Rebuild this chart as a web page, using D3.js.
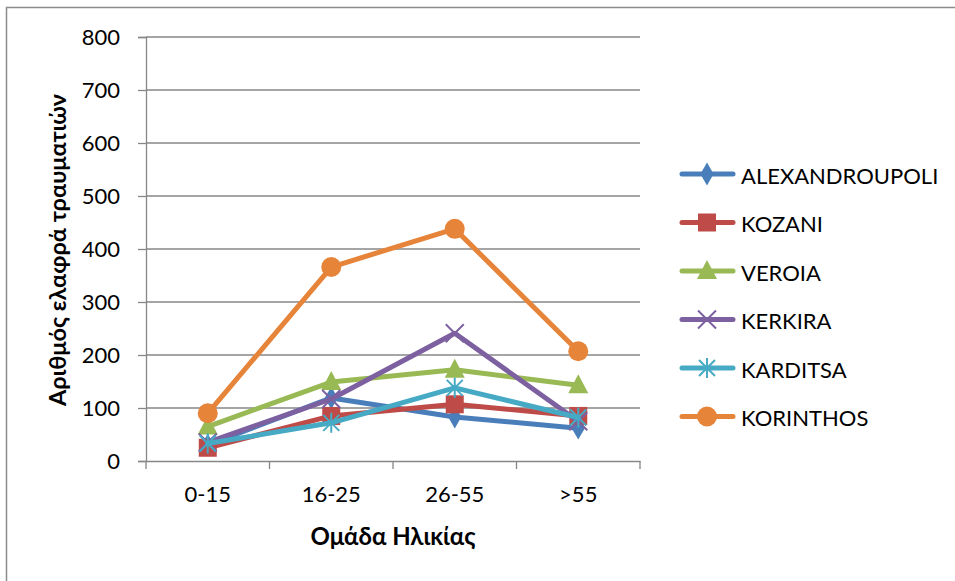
<!DOCTYPE html>
<html>
<head>
<meta charset="utf-8">
<script src="https://cdn.jsdelivr.net/npm/d3@7"></script>
<style>
  html, body { margin: 0; padding: 0; background: #fff; }
  svg { display: block; }
  text { font-family: Lato, "Open Sans", sans-serif; fill: #000; }
</style>
</head>
<body>
<svg id="chart" width="955" height="581"></svg>
<script>
// Age groups on the x axis
const categories = ["0-15", "16-25", "26-55", ">55"];
const yTicks = [0, 100, 200, 300, 400, 500, 600, 700, 800];

// Light injuries per age group, one array per city
const alexandroupoli = [30, 119, 83, 62];
const kozani = [25, 85, 107, 85];
const veroia = [65, 149, 172, 143];
const kerkira = [35, 117, 241, 75];
const karditsa = [33, 72, 138, 82];
const korinthos = [90, 366, 438, 207];

const seriesNames = ["ALEXANDROUPOLI", "KOZANI", "VEROIA", "KERKIRA", "KARDITSA", "KORINTHOS"];
const seriesValues = [alexandroupoli, kozani, veroia, kerkira, karditsa, korinthos];
const colors = ["#4A7EBB", "#BE4B48", "#98B954", "#7D60A0", "#46AAC5", "#E6843A"];
const markers = ["diamond", "square", "triangle", "x", "star", "circle"];

const svg = d3.select("#chart");

// Chart area frame
svg.append("rect")
  .attr("x", 6.5).attr("y", 7.5)
  .attr("width", 1000).attr("height", 1000)
  .attr("fill", "none").attr("stroke", "#8c8c8c").attr("stroke-width", 1.5);

const plot = { left: 146, right: 640, top: 37, bottom: 461 };

const x = d3.scaleBand().domain(categories).range([plot.left, plot.right]);
const y = d3.scaleLinear().domain([0, 800]).range([plot.bottom, plot.top]);

// Horizontal gridlines
svg.append("g").selectAll("line").data(yTicks.filter(d => d > 0)).join("line")
  .attr("x1", plot.left).attr("x2", plot.right)
  .attr("y1", d => y(d)).attr("y2", d => y(d))
  .attr("stroke", "#878787").attr("stroke-width", 1.3);

// Y axis
const yAxis = svg.append("g").attr("transform", `translate(${plot.left},0)`)
  .call(d3.axisLeft(y).tickValues(yTicks).tickSize(8).tickPadding(18).tickFormat(d3.format("d")));
yAxis.select(".domain").attr("stroke", "#878787").attr("stroke-width", 1.3);
yAxis.selectAll(".tick line").attr("stroke", "#878787").attr("stroke-width", 1.3);
yAxis.selectAll(".tick text").attr("font-size", 22).attr("font-family", "Lato, sans-serif");

// X axis
const xAxis = svg.append("g").attr("transform", `translate(0,${plot.bottom})`)
  .call(d3.axisBottom(x).tickSize(0).tickPadding(25));
xAxis.select(".domain").attr("stroke", "#878787").attr("stroke-width", 1.3);
xAxis.selectAll(".tick text").attr("font-size", 22).attr("font-family", "Lato, sans-serif");
// Category boundary ticks
const bounds = categories.map(c => x(c)).concat([plot.right]);
svg.append("g").selectAll("line").data(bounds).join("line")
  .attr("x1", d => d).attr("x2", d => d)
  .attr("y1", plot.bottom).attr("y2", plot.bottom + 8)
  .attr("stroke", "#878787").attr("stroke-width", 1.3);

// Axis titles
svg.append("text")
  .attr("transform", `translate(57,${(plot.top + plot.bottom) / 2 + 1}) rotate(-90)`)
  .attr("text-anchor", "middle").attr("dominant-baseline", "central")
  .attr("font-size", 23.5).attr("font-weight", "bold")
  .text("Αριθμός ελαφρά τραυματιών");
svg.append("text")
  .attr("x", (plot.left + plot.right) / 2).attr("y", 545)
  .attr("text-anchor", "middle")
  .attr("font-size", 24).attr("font-weight", "bold")
  .text("Ομάδα Ηλικίας");

// Marker drawing
function drawMarker(g, type, color) {
  switch (type) {
    case "diamond":
      g.append("path").attr("d", d3.symbol(d3.symbolDiamond, 150)()).attr("fill", color);
      break;
    case "square":
      g.append("rect").attr("x", -9).attr("y", -9).attr("width", 18).attr("height", 18).attr("fill", color);
      break;
    case "triangle":
      g.append("path").attr("d", "M0,-11 L10,8 L-10,8 Z").attr("fill", color);
      break;
    case "x":
      g.append("path").attr("d", "M-9,-9 L9,9 M-9,9 L9,-9").attr("stroke", color).attr("stroke-width", 2).attr("fill", "none");
      break;
    case "star":
      g.append("path").attr("d", "M-8,-8 L8,8 M-8,8 L8,-8 M0,-10 L0,10").attr("stroke", color).attr("stroke-width", 2).attr("fill", "none");
      break;
    case "circle":
      g.append("circle").attr("r", 10).attr("fill", color);
      break;
  }
}

const line = d3.line()
  .x((d, i) => x(categories[i]) + x.bandwidth() / 2)
  .y(d => y(d));

seriesValues.forEach((vals, si) => {
  const g = svg.append("g");
  g.append("path").datum(vals)
    .attr("d", line)
    .attr("fill", "none").attr("stroke", colors[si])
    .attr("stroke-width", 5).attr("stroke-linejoin", "round").attr("stroke-linecap", "round");
  vals.forEach((v, i) => {
    const mg = g.append("g")
      .attr("transform", `translate(${x(categories[i]) + x.bandwidth() / 2},${y(v)})`);
    drawMarker(mg, markers[si], colors[si]);
  });
});

// Legend
const legend = svg.append("g");
seriesNames.forEach((name, i) => {
  const ly = 174 + i * 48.5;
  legend.append("line")
    .attr("x1", 682).attr("x2", 733).attr("y1", ly).attr("y2", ly)
    .attr("stroke", colors[i]).attr("stroke-width", 5).attr("stroke-linecap", "round");
  const mg = legend.append("g").attr("transform", `translate(707,${ly})`);
  drawMarker(mg, markers[i], colors[i]);
  legend.append("text")
    .attr("x", 741).attr("y", ly + 1).attr("dominant-baseline", "central")
    .attr("font-size", 22).text(name);
});
</script>
</body>
</html>
